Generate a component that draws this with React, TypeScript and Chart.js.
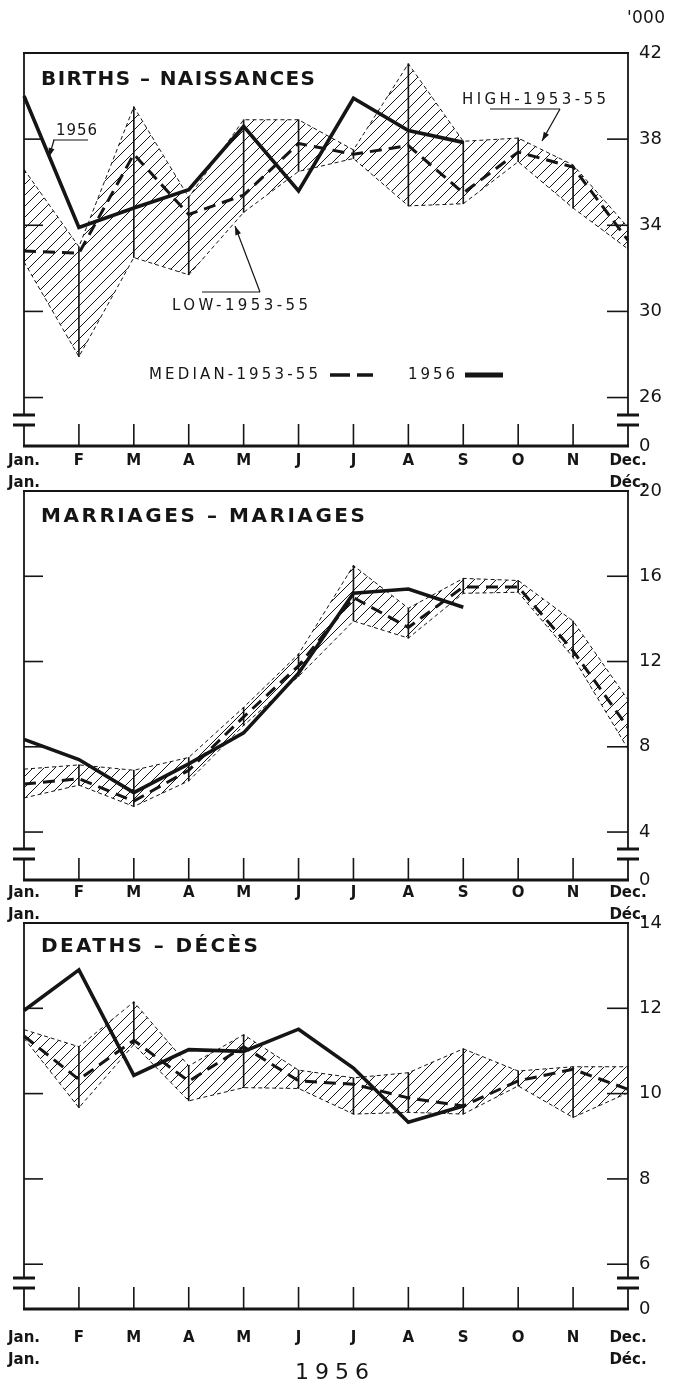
import React, { useEffect, useRef } from 'react';
import { Chart, registerables } from 'chart.js';

Chart.register(...registerables);

const FONT = '"DejaVu Sans", sans-serif';
const INK = '#151515';

// ---- categories ----
const MONTHS = ['Jan.', 'F', 'M', 'A', 'M', 'J', 'J', 'A', 'S', 'O', 'N', 'Dec.'];
const FIRST_MONTH_FR = 'Jan.';
const LAST_MONTH_FR = 'Déc.';

// ---- births ('000) ----
const BIRTHS_HIGH = [36.6, 33.0, 39.5, 35.3, 38.9, 38.9, 37.5, 41.5, 37.9, 38.05, 36.8, 33.9];
const BIRTHS_LOW = [32.3, 27.9, 32.5, 31.7, 34.6, 36.5, 37.1, 34.9, 35.0, 36.95, 34.8, 32.9];
const BIRTHS_MEDIAN = [32.8, 32.7, 37.3, 34.5, 35.4, 37.8, 37.3, 37.7, 35.5, 37.4, 36.7, 33.3];
const BIRTHS_1956 = [40.0, 33.9, 34.8, 35.65, 38.6, 35.6, 39.9, 38.4, 37.85, null, null, null];
const BIRTHS_TICKS = [26, 30, 34, 38, 42];

// ---- marriages ('000) ----
const MARRIAGES_HIGH = [6.95, 7.15, 6.9, 7.5, 9.85, 12.35, 16.5, 14.5, 15.9, 15.8, 13.9, 10.2];
const MARRIAGES_LOW = [5.6, 6.2, 5.2, 6.4, 9.0, 11.3, 13.9, 13.1, 15.2, 15.25, 12.2, 7.9];
const MARRIAGES_MEDIAN = [6.25, 6.5, 5.45, 6.9, 9.4, 11.8, 15.0, 13.6, 15.5, 15.5, 12.5, 8.9];
const MARRIAGES_1956 = [8.35, 7.4, 5.85, 7.2, 8.65, 11.45, 15.2, 15.4, 14.55, null, null, null];
const MARRIAGES_TICKS = [4, 8, 12, 16, 20];

// ---- deaths ('000) ----
const DEATHS_HIGH = [11.5, 11.1, 12.15, 10.65, 11.38, 10.55, 10.37, 10.49, 11.05, 10.53, 10.63, 10.63];
const DEATHS_LOW = [11.3, 9.67, 11.15, 9.83, 10.14, 10.12, 9.52, 9.56, 9.52, 10.18, 9.44, 10.02];
const DEATHS_MEDIAN = [11.35, 10.33, 11.25, 10.29, 11.1, 10.3, 10.22, 9.9, 9.71, 10.3, 10.57, 10.1];
const DEATHS_1956 = [11.95, 12.9, 10.43, 11.03, 10.99, 11.51, 10.6, 9.33, 9.71, null, null, null];
const DEATHS_TICKS = [6, 8, 10, 12, 14];

const BROKEN_AXIS_LABEL = '0';
const UNIT_LABEL = "'000";
const YEAR_LABEL = '1956';
const MEDIAN_LABEL = 'MEDIAN-1953-55';
const HIGH_LABEL = 'HIGH-1953-55';
const LOW_LABEL = 'LOW-1953-55';

type Extra = (ctx: CanvasRenderingContext2D, off: number) => void;

interface PanelCfg {
  title: string;
  titleBox: [number, number, number];
  high: number[];
  low: number[];
  median: number[];
  y1956: (number | null)[];
  ticks: number[];
  min: number;
  max: number;
  top: number;
  height: number;
  padTop: number;
  axisH: number;
  labelPad: number;
  extra?: Extra;
}

function spaced(ctx: CanvasRenderingContext2D, text: string, x: number, y: number, width: number, font: string) {
  ctx.font = font;
  ctx.textAlign = 'left';
  ctx.textBaseline = 'middle';
  const anyCtx = ctx as any;
  anyCtx.letterSpacing = '0px';
  const n = Array.from(text).length;
  const w = ctx.measureText(text).width;
  const gap = n > 1 ? (width - w) / (n - 1) : 0;
  if ('letterSpacing' in anyCtx) {
    anyCtx.letterSpacing = gap.toFixed(2) + 'px';
    ctx.fillText(text, x, y);
    anyCtx.letterSpacing = '0px';
  } else {
    ctx.fillText(text, x, y);
  }
}

function seg(ctx: CanvasRenderingContext2D, x1: number, y1: number, x2: number, y2: number) {
  ctx.beginPath();
  ctx.moveTo(x1, y1);
  ctx.lineTo(x2, y2);
  ctx.stroke();
}

function arrow(ctx: CanvasRenderingContext2D, x1: number, y1: number, x2: number, y2: number) {
  seg(ctx, x1, y1, x2, y2);
  const a = Math.atan2(y2 - y1, x2 - x1);
  const L = 9;
  const W = 3;
  ctx.beginPath();
  ctx.moveTo(x2, y2);
  ctx.lineTo(x2 - L * Math.cos(a) + W * Math.sin(a), y2 - L * Math.sin(a) - W * Math.cos(a));
  ctx.lineTo(x2 - L * Math.cos(a) - W * Math.sin(a), y2 - L * Math.sin(a) + W * Math.cos(a));
  ctx.closePath();
  ctx.fill();
}

const birthsExtra: Extra = (ctx, off) => {
  const small = `15px ${FONT}`;
  spaced(ctx, UNIT_LABEL, 627, 19 - off, 38, `17px ${FONT}`);
  // legend
  spaced(ctx, MEDIAN_LABEL, 149, 375 - off, 169, small);
  ctx.lineWidth = 3.5;
  seg(ctx, 330, 375 - off, 350, 375 - off);
  seg(ctx, 357, 375 - off, 373, 375 - off);
  spaced(ctx, YEAR_LABEL, 408, 375 - off, 47, small);
  ctx.lineWidth = 5;
  seg(ctx, 465, 375 - off, 503, 375 - off);
  // annotations
  ctx.lineWidth = 1.2;
  spaced(ctx, YEAR_LABEL, 56, 131 - off, 41, small);
  seg(ctx, 53, 140 - off, 88, 140 - off);
  arrow(ctx, 54, 140 - off, 49, 157 - off);
  spaced(ctx, HIGH_LABEL, 462, 100 - off, 144, small);
  seg(ctx, 490, 109 - off, 560, 109 - off);
  arrow(ctx, 560, 109 - off, 542, 141 - off);
  spaced(ctx, LOW_LABEL, 172, 306 - off, 136, small);
  seg(ctx, 202, 292 - off, 260, 292 - off);
  arrow(ctx, 260, 292 - off, 235, 226 - off);
};

const deathsExtra: Extra = (ctx, off) => {
  spaced(ctx, YEAR_LABEL, 295, 1373 - off, 74, `22px ${FONT}`);
};

const PANELS: PanelCfg[] = [
  {
    title: 'BIRTHS – NAISSANCES',
    titleBox: [41, 80, 274],
    high: BIRTHS_HIGH,
    low: BIRTHS_LOW,
    median: BIRTHS_MEDIAN,
    y1956: BIRTHS_1956,
    ticks: BIRTHS_TICKS,
    min: 23.75,
    max: 42,
    top: 0,
    height: 500,
    padTop: 53,
    axisH: 54,
    labelPad: 4,
    extra: birthsExtra,
  },
  {
    title: 'MARRIAGES – MARIAGES',
    titleBox: [41, 517, 324],
    high: MARRIAGES_HIGH,
    low: MARRIAGES_LOW,
    median: MARRIAGES_MEDIAN,
    y1956: MARRIAGES_1956,
    ticks: MARRIAGES_TICKS,
    min: 1.75,
    max: 20,
    top: 460,
    height: 470,
    padTop: 31,
    axisH: 50,
    labelPad: 2,
  },
  {
    title: 'DEATHS – DÉCÈS',
    titleBox: [41, 947, 217],
    high: DEATHS_HIGH,
    low: DEATHS_LOW,
    median: DEATHS_MEDIAN,
    y1956: DEATHS_1956,
    ticks: DEATHS_TICKS,
    min: 4.95,
    max: 14,
    top: 890,
    height: 497,
    padTop: 33,
    axisH: 78,
    labelPad: 18,
    extra: deathsExtra,
  },
];

function makeHatch(): CanvasPattern | string {
  const s = 11;
  const c = document.createElement('canvas');
  c.width = s;
  c.height = s;
  const g = c.getContext('2d');
  if (!g) return 'rgba(0,0,0,0.15)';
  g.strokeStyle = INK;
  g.lineWidth = 1;
  for (const k of [-1, 0, 1]) {
    g.beginPath();
    g.moveTo(k * s, s);
    g.lineTo(k * s + s, 0);
    g.stroke();
  }
  return g.createPattern(c, 'repeat') || 'rgba(0,0,0,0.15)';
}

function PanelChart({ p }: { p: PanelCfg }) {
  const ref = useRef<HTMLCanvasElement | null>(null);

  useEffect(() => {
    const canvas = ref.current;
    if (!canvas) return;
    const hatch = makeHatch();

    const decor = {
      id: 'decor',
      afterDraw(chart: any) {
        const ctx: CanvasRenderingContext2D = chart.ctx;
        const { left, right, top, bottom } = chart.chartArea;
        const xs = chart.scales.x;
        const ys = chart.scales.y;
        const off = p.top;
        ctx.save();
        ctx.strokeStyle = INK;
        ctx.fillStyle = INK;
        ctx.lineCap = 'butt';
        // top border
        ctx.lineWidth = 1.8;
        seg(ctx, left - 1, top, right + 1, top);
        // bottom axis
        ctx.lineWidth = 3;
        seg(ctx, left - 1, bottom, right + 1, bottom);
        // broken side axes
        const b1 = bottom - 31;
        const b2 = bottom - 21;
        for (const xx of [left, right]) {
          ctx.lineWidth = 1.8;
          seg(ctx, xx, top, xx, b1);
          seg(ctx, xx, b2, xx, bottom);
          ctx.lineWidth = 3;
          seg(ctx, xx - 11, b1, xx + 11, b1);
          seg(ctx, xx - 11, b2, xx + 11, b2);
        }
        // month ticks
        ctx.lineWidth = 1.6;
        for (let i = 1; i < MONTHS.length - 1; i++) {
          const px = xs.getPixelForValue(i);
          seg(ctx, px, bottom, px, bottom - 22);
        }
        // inner value ticks
        ctx.lineWidth = 1.6;
        for (const v of p.ticks) {
          if (v === p.max) continue;
          const py = ys.getPixelForValue(v);
          seg(ctx, left, py, left + 19, py);
          seg(ctx, right - 21, py, right, py);
        }
        // title
        const [tx, ty, tw] = p.titleBox;
        spaced(ctx, p.title, tx, ty - off, tw, `bold 20px ${FONT}`);
        if (p.extra) p.extra(ctx, off);
        ctx.restore();
      },
    };

    const chart = new Chart(canvas, {
      type: 'line',
      data: {
        labels: MONTHS,
        datasets: [
          {
            type: 'line',
            label: 'High 1953-55',
            data: p.high,
            borderColor: INK,
            borderWidth: 1,
            borderDash: [4, 3],
            pointRadius: 0,
            tension: 0,
            fill: '+1',
            backgroundColor: hatch as any,
            order: 4,
          },
          {
            type: 'line',
            label: 'Low 1953-55',
            data: p.low,
            borderColor: INK,
            borderWidth: 1,
            borderDash: [4, 3],
            pointRadius: 0,
            tension: 0,
            fill: false,
            order: 3,
          },
          {
            type: 'bar',
            label: 'Range 1953-55',
            data: p.low.map((l, i) => [l, p.high[i]]) as any,
            backgroundColor: INK,
            borderWidth: 0,
            barThickness: 1,
            order: 2,
          },
          {
            type: 'line',
            label: 'Median 1953-55',
            data: p.median,
            borderColor: INK,
            borderWidth: 3,
            borderDash: [12, 7],
            pointRadius: 0,
            tension: 0,
            fill: false,
            order: 1,
          },
          {
            type: 'line',
            label: '1956',
            data: p.y1956 as any,
            borderColor: INK,
            borderWidth: 3.6,
            pointRadius: 0,
            tension: 0,
            fill: false,
            spanGaps: false,
            order: 0,
          },
        ] as any,
      },
      options: {
        responsive: false,
        maintainAspectRatio: false,
        animation: false,
        events: [],
        layout: { padding: { left: 24, right: 0, top: p.padTop, bottom: 0 } },
        plugins: {
          legend: { display: false },
          tooltip: { enabled: false },
        },
        scales: {
          x: {
            type: 'category',
            offset: false,
            grid: { display: false, drawTicks: false },
            border: { display: false },
            ticks: {
              autoSkip: false,
              maxRotation: 0,
              minRotation: 0,
              padding: p.labelPad,
              color: INK,
              font: { family: FONT, size: 15, weight: 'bold', lineHeight: 1.45 },
              callback: (_v: any, i: number) =>
                i === 0
                  ? [MONTHS[0], FIRST_MONTH_FR]
                  : i === MONTHS.length - 1
                  ? [MONTHS[i], LAST_MONTH_FR]
                  : MONTHS[i],
            },
            afterFit: (s: any) => {
              s.height = p.axisH;
              s.paddingLeft = 0;
              s.paddingRight = 0;
            },
          },
          y: {
            type: 'linear',
            position: 'right',
            min: p.min,
            max: p.max,
            grid: { display: false, drawTicks: false },
            border: { display: false },
            ticks: {
              padding: 11,
              color: INK,
              font: { family: FONT, size: 18 },
              callback: (v: any) => (v === p.min ? BROKEN_AXIS_LABEL : String(v)),
            },
            afterBuildTicks: (s: any) => {
              s.ticks = [p.min, ...p.ticks].map((v) => ({ value: v }));
            },
            afterFit: (s: any) => {
              s.width = 48;
              s.paddingTop = 0;
              s.paddingBottom = 0;
            },
          },
        },
      } as any,
      plugins: [decor as any],
    });

    return () => chart.destroy();
  }, [p]);

  return (
    <canvas
      ref={ref}
      width={676}
      height={p.height}
      style={{ position: 'absolute', left: 0, top: p.top, width: 676, height: p.height, display: 'block' }}
    />
  );
}

export default function App() {
  return (
    <div style={{ position: 'absolute', left: 0, top: 0, width: 676, height: 1387, background: '#fff', overflow: 'hidden' }}>
      {PANELS.map((p, i) => (
        <PanelChart key={i} p={p} />
      ))}
    </div>
  );
}
